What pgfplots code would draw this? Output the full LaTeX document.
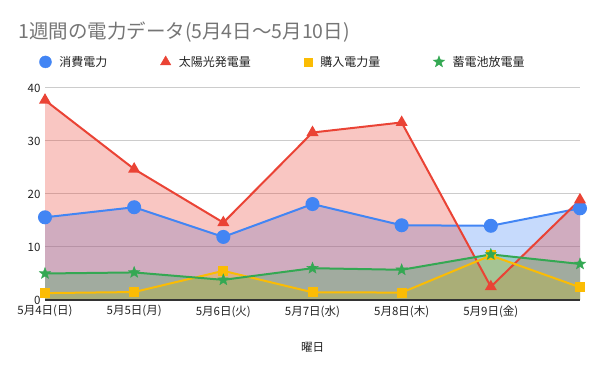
\documentclass[border=0pt]{standalone}
\usepackage{pgfplots}
\pgfplotsset{compat=1.18}
\usepackage{fontspec}
\setmainfont{Noto Sans CJK JP}
\definecolor{cblue}{HTML}{4285F4}
\definecolor{cred}{HTML}{EA4335}
\definecolor{cyellow}{HTML}{FBBC04}
\definecolor{cgreen}{HTML}{34A853}
\definecolor{titlegray}{HTML}{757575}
\definecolor{tickc}{HTML}{222222}
\definecolor{gridc}{HTML}{CCCCCC}
\definecolor{basec}{HTML}{333333}
\pgfdeclareplotmark{fstar}{%
\pgfpathmoveto{\pgfpointpolar{90}{\pgfplotmarksize}}%
\pgfpathlineto{\pgfpointpolar{126}{0.42\pgfplotmarksize}}%
\pgfpathlineto{\pgfpointpolar{162}{\pgfplotmarksize}}%
\pgfpathlineto{\pgfpointpolar{198}{0.42\pgfplotmarksize}}%
\pgfpathlineto{\pgfpointpolar{234}{\pgfplotmarksize}}%
\pgfpathlineto{\pgfpointpolar{270}{0.42\pgfplotmarksize}}%
\pgfpathlineto{\pgfpointpolar{306}{\pgfplotmarksize}}%
\pgfpathlineto{\pgfpointpolar{342}{0.42\pgfplotmarksize}}%
\pgfpathlineto{\pgfpointpolar{18}{\pgfplotmarksize}}%
\pgfpathlineto{\pgfpointpolar{54}{0.42\pgfplotmarksize}}%
\pgfpathclose\pgfusepathqfillstroke}
\begin{document}
\begin{tikzpicture}
\path[use as bounding box] (0pt,0pt) rectangle (600pt,371pt);
\node[anchor=west, text=titlegray, inner sep=0, font=\fontsize{19.5}{22}\selectfont] at (18pt,339pt) {1週間の電力データ(5月4日～5月10日)};
\begin{axis}[
  at={(45pt,71pt)}, anchor=south west, scale only axis, width=535pt, height=212pt,
  xmin=0, xmax=6, ymin=0, ymax=40,
  xtick={0,1,2,3,4,5},
  xticklabels={5月4日(日),5月5日(月),5月6日(火),5月7日(水),5月8日(木),5月9日(金)},
  ytick={0,10,20,30,40},
  axis x line*=bottom, axis y line*=left,
  y axis line style={draw=none}, x axis line style={draw=none},
  major tick length=0pt,
  ymajorgrids, grid style={gridc, line width=1pt},
  /pgf/number format/assume math mode=true,
  ticklabel style={font=\fontsize{11.5}{13}\selectfont, text=tickc},
  xticklabel style={yshift=-2pt},
  yticklabel style={xshift=-1pt},
  xlabel={曜日},
  xlabel style={font=\fontsize{11.5}{13}\selectfont, text=tickc, at={(axis description cs:0.5,-0.222)}, anchor=center},
  clip=false,
  legend columns=4,
  legend style={at={(axis description cs:-0.0107,1.123)}, anchor=west, draw=none, fill=none, inner sep=0pt,
     font=\fontsize{12}{14}\selectfont, text=tickc,
     /tikz/every odd column/.append style={column sep=6pt},
     /tikz/every even column/.append style={column sep=51pt}},
  legend image code/.code={\draw[#1] plot coordinates {(0pt,0pt)};},
]
% area fills
\addplot[draw=none, fill=cblue, fill opacity=0.3, forget plot] coordinates {(0,15.6) (1,17.5) (2,11.9) (3,18.1) (4,14.1) (5,14.0) (6,17.3)} \closedcycle;
\addplot[draw=none, fill=cred, fill opacity=0.3, forget plot] coordinates {(0,37.7) (1,24.7) (2,14.6) (3,31.6) (4,33.5) (5,2.5) (6,18.9)} \closedcycle;
\addplot[draw=none, fill=cyellow, fill opacity=0.3, forget plot] coordinates {(0,1.3) (1,1.5) (2,5.5) (3,1.45) (4,1.4) (5,8.4) (6,2.4)} \closedcycle;
\addplot[draw=none, fill=cgreen, fill opacity=0.3, forget plot] coordinates {(0,5.0) (1,5.2) (2,3.8) (3,6.0) (4,5.7) (5,8.6) (6,6.8)} \closedcycle;
\draw[basec, line width=1.3pt] (axis cs:0,0) -- (axis cs:6,0);
% legend images
\addlegendimage{only marks, mark=*, mark size=6pt, cblue}
\addlegendentry{消費電力}
\addlegendimage{only marks, mark=triangle*, mark size=6pt, cred}
\addlegendentry{太陽光発電量}
\addlegendimage{only marks, mark=square*, mark size=4.2pt, cyellow}
\addlegendentry{購入電力量}
\addlegendimage{only marks, mark=fstar, mark options={fill=cgreen, line width=0.4pt}, mark size=6pt, cgreen}
\addlegendentry{蓄電池放電量}
% lines
\addplot[cblue, line width=2pt, mark=*, mark size=6pt, forget plot] coordinates {(0,15.6) (1,17.5) (2,11.9) (3,18.1) (4,14.1) (5,14.0) (6,17.3)};
\addplot[cred, line width=2pt, mark=triangle*, mark size=5pt, forget plot] coordinates {(0,37.7) (1,24.7) (2,14.6) (3,31.6) (4,33.5) (5,2.5) (6,18.9)};
\addplot[cyellow, line width=2pt, mark=square*, mark size=4pt, forget plot] coordinates {(0,1.3) (1,1.5) (2,5.5) (3,1.45) (4,1.4) (5,8.4) (6,2.4)};
\addplot[cgreen, line width=2pt, mark=fstar, mark options={fill=cgreen, line width=0.4pt}, mark size=6pt, forget plot] coordinates {(0,5.0) (1,5.2) (2,3.8) (3,6.0) (4,5.7) (5,8.6) (6,6.8)};
\end{axis}
\end{tikzpicture}
\end{document}
